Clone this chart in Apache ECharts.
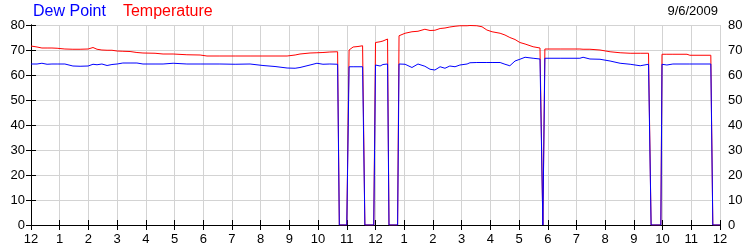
<!DOCTYPE html>
<html>
<head>
<meta charset="utf-8">
<script src="https://cdn.jsdelivr.net/npm/echarts@6/dist/echarts.min.js"></script>
<style>
html,body{margin:0;padding:0;background:#fff;}
#chart{width:750px;height:250px;}
</style>
</head>
<body>
<div id="chart"></div>
<script>
// Time of day in hours (0 = 12 AM)
var hours = [
  0.00,0.21,0.38,0.56,0.73,0.91,1.18,1.46,1.71,1.99,2.16,2.30,2.47,2.65,2.82,3.00,3.20,3.45,3.69,3.90,
  4.32,4.60,4.95,5.43,5.89,6.13,6.58,7.11,7.63,8.08,8.50,8.92,9.20,9.37,9.72,9.96,10.17,10.41,10.68,10.74,
  11.00,11.08,11.22,11.39,11.55,11.63,11.94,12.00,12.16,12.26,12.42,12.47,12.77,12.82,13.03,13.27,13.48,13.72,13.90,14.07,
  14.25,14.42,14.59,14.77,14.94,15.19,15.29,15.53,15.71,15.88,16.06,16.34,16.51,16.68,16.86,17.03,17.21,17.49,17.73,17.83,
  17.90,18.43,19.12,19.23,19.47,19.82,20.17,20.52,20.87,21.22,21.51,21.60,21.94,21.98,22.15,22.36,22.85,22.95,23.68,23.75,
  24.00
];
var temperature = [
  71.6,71.2,70.8,70.8,70.8,70.7,70.4,70.3,70.3,70.4,71.0,70.3,70.0,69.9,69.9,69.6,69.5,69.4,69.0,68.8,
  68.7,68.4,68.4,68.1,68.0,67.6,67.6,67.6,67.6,67.6,67.6,67.6,68.0,68.4,68.8,68.9,69.0,69.2,69.3,0,
  0,70.0,71.2,71.4,71.7,0,0,73.0,73.3,73.6,74.4,0,0,75.7,76.7,77.3,77.5,78.3,77.8,77.9,
  78.6,78.8,79.2,79.5,79.7,79.7,79.8,79.7,79.3,78.0,77.3,76.7,76.0,75.0,74.2,73.0,72.4,71.3,70.8,0,
  70.4,70.4,70.4,70.3,70.3,70.0,69.3,68.9,68.7,68.7,68.7,0,0,68.3,68.3,68.3,68.3,67.9,67.9,0,
  0
];
var dewPoint = [
  64.4,64.4,64.7,64.3,64.4,64.4,64.4,63.6,63.5,63.6,64.3,64.1,64.4,63.8,64.2,64.4,64.8,64.8,64.8,64.4,
  64.4,64.4,64.7,64.4,64.4,64.4,64.4,64.3,64.4,63.8,63.4,62.8,62.7,63.0,64.0,64.7,64.3,64.4,64.3,0,
  0,63.3,63.3,63.3,63.3,0,0,64.0,63.6,64.2,64.4,0,0,64.4,64.3,63.0,64.4,63.5,62.3,62.0,
  63.3,62.7,63.6,63.3,64.0,64.4,64.9,65.0,65.0,65.0,65.0,65.0,64.3,63.7,65.6,66.3,67.1,66.7,66.4,0,
  66.7,66.7,66.7,67.1,66.4,66.3,65.6,64.7,64.3,63.7,64.3,0,0,64.3,64.0,64.4,64.4,64.4,64.4,0,
  0
];
var hourLabels = ['12','1','2','3','4','5','6','7','8','9','10','11','12','1','2','3','4','5','6','7','8','9','10','11','12'];
var yTicks = [0,10,20,30,40,50,60,70,80];
var dateText = '9/6/2009';
var seriesNames = ['Dew Point','Temperature'];

var font = 'Liberation Sans, Arial, sans-serif';
var chart = echarts.init(document.getElementById('chart'), null, {renderer:'canvas'});
function pairs(vals){ return hours.map(function(h,i){ return [h, vals[i]]; }); }
var axisBlack = {show:true, lineStyle:{color:'#000', width:1}};
var tickIn = {show:true, inside:true, length:5, lineStyle:{color:'#000'}};
chart.setOption({
  animation:false,
  backgroundColor:'#fff',
  textStyle:{fontFamily:font},
  title:{text:dateText, right:32, top:5, padding:0,
    textStyle:{fontSize:13, fontWeight:'normal', color:'#000', fontFamily:font}},
  legend:{left:28, top:4, padding:0, itemWidth:0, itemHeight:0, itemGap:12,
    selectedMode:false,
    data:[
      {name:seriesNames[0], icon:'none', textStyle:{color:'#0000ff'}},
      {name:seriesNames[1], icon:'none', textStyle:{color:'#ff0000'}}
    ],
    textStyle:{fontSize:16, fontFamily:font}},
  grid:{left:31, right:30, top:25, bottom:25, containLabel:false},
  xAxis:[
    {type:'value', position:'bottom', min:0, max:24, interval:1,
      axisLine:axisBlack, axisTick:tickIn,
      axisLabel:{color:'#000', fontSize:13, margin:8, fontFamily:font,
        formatter:function(v){ return hourLabels[Math.round(v)]; }},
      splitLine:{show:true, lineStyle:{color:'#d3d3d3', width:1}}},
    {type:'value', position:'top', min:0, max:24, interval:1,
      axisLine:axisBlack, axisTick:tickIn, axisLabel:{show:false}, splitLine:{show:false}}
  ],
  yAxis:[
    {type:'value', position:'left', min:yTicks[0], max:yTicks[yTicks.length-1], interval:10,
      axisLine:axisBlack, axisTick:tickIn,
      axisLabel:{color:'#000', fontSize:13, margin:6, fontFamily:font},
      splitLine:{show:true, lineStyle:{color:'#d3d3d3', width:1}}},
    {type:'value', position:'right', min:yTicks[0], max:yTicks[yTicks.length-1], interval:10,
      axisLine:axisBlack, axisTick:tickIn,
      axisLabel:{color:'#000', fontSize:13, margin:8, fontFamily:font},
      splitLine:{show:false}}
  ],
  series:[
    {name:seriesNames[1], type:'line', data:pairs(temperature), showSymbol:false, symbol:'none',
      lineStyle:{color:'#ff0000', width:1}, itemStyle:{color:'#ff0000'}, z:2},
    {name:seriesNames[0], type:'line', data:pairs(dewPoint), showSymbol:false, symbol:'none',
      lineStyle:{color:'#0000ff', width:1}, itemStyle:{color:'#0000ff'}, z:3}
  ]
});
</script>
</body>
</html>
